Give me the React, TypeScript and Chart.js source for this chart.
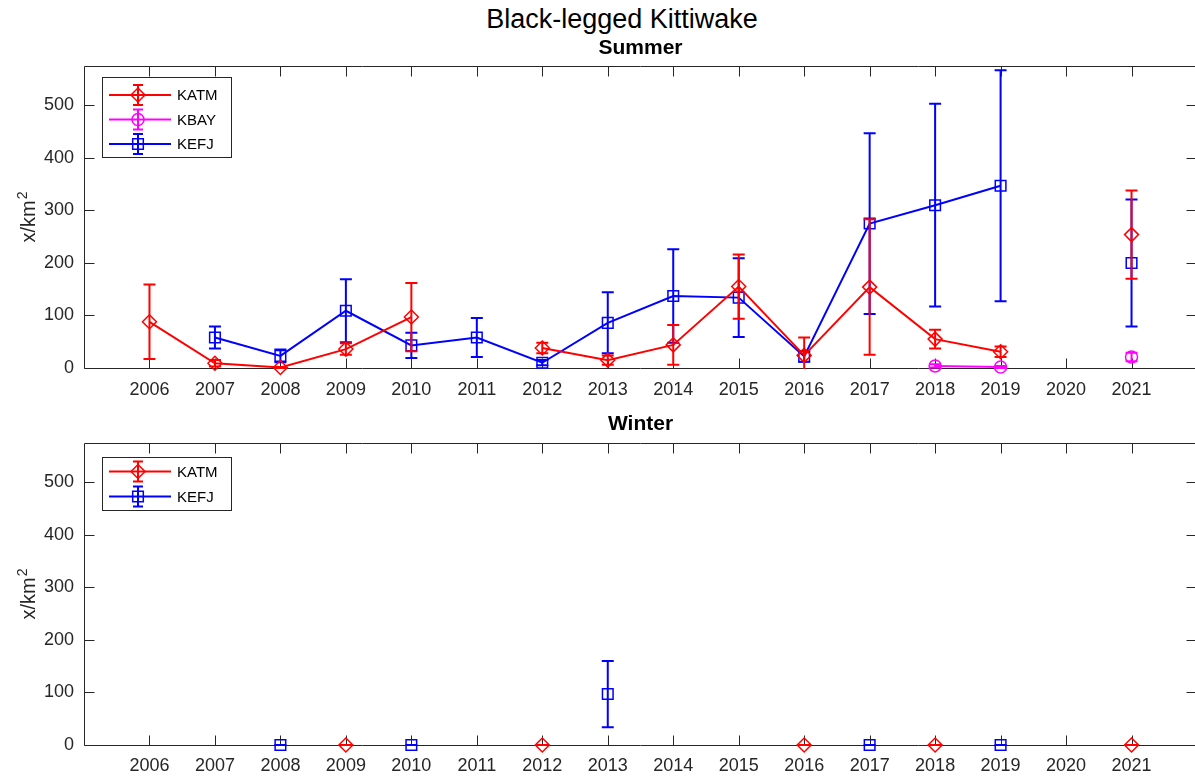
import React, { useEffect, useRef } from 'react';
import { Chart, registerables } from 'chart.js';

Chart.register(...registerables);

// Survey years and axis ticks
const years = [2006, 2007, 2008, 2009, 2010, 2011, 2012, 2013, 2014, 2015, 2016, 2017, 2018, 2019, 2020, 2021];
const yTicks = [0, 100, 200, 300, 400, 500];

// Summer densities (birds per km²) and their error half-widths
const summerKATM = [88, 9, 1, 36, 97, null, 38, 15, 44, 155, 24, 154, 55, 31, null, 254];
const summerKATMErr = [71, 6, 1, 11, 65, null, 10, 9, 38, 61, 34, 129, 18, 10, null, 84];
const summerKBAY = [null, null, null, null, null, null, null, null, null, null, null, null, 4, 2, null, 21];
const summerKBAYErr = [null, null, null, null, null, null, null, null, null, null, null, null, 3, 2, null, 8];
const summerKEFJ = [null, 58, 23, 109, 43, 58, 10, 86, 137, 134, 22, 275, 310, 347, null, 200];
const summerKEFJErr = [null, 21, 12, 60, 24, 37, 5, 58, 89, 75, 10, 172, 193, 220, null, 121];

// Winter densities
const winterKATM = [null, null, null, 0, null, null, 0, null, null, null, 0, null, 0, null, null, 0];
const winterKATMErr = [null, null, null, 0, null, null, 0, null, null, null, 0, null, 0, null, null, 0];
const winterKEFJ = [null, null, 0, null, 0, null, null, 97, null, null, null, 0, null, 0, null, null];
const winterKEFJErr = [null, null, 0, null, 0, null, null, 63, null, null, null, 0, null, 0, null, null];

const RED = '#ff0000';
const MAGENTA = '#ff00ff';
const BLUE = '#0000ff';
const AXIS = '#262626';
const FONT = "'Liberation Sans', Arial, Helvetica, sans-serif";

Chart.defaults.font.family = FONT;

type Style = { color: string; pointStyle: string; radius: number };
const styles: Record<string, Style> = {
  KATM: { color: RED, pointStyle: 'rectRot', radius: 7 },
  KBAY: { color: MAGENTA, pointStyle: 'circle', radius: 6 },
  KEFJ: { color: BLUE, pointStyle: 'rect', radius: 7.5 },
};

function series(label: string, values: (number | null)[], errors: (number | null)[]) {
  const s = styles[label];
  return {
    label,
    data: years.map((x, i) => ({ x, y: values[i] })),
    errors,
    borderColor: s.color,
    backgroundColor: 'rgba(0,0,0,0)',
    borderWidth: 2,
    pointStyle: s.pointStyle,
    pointRadius: s.radius,
    pointBorderWidth: 1.5,
    pointBorderColor: s.color,
    pointBackgroundColor: 'rgba(0,0,0,0)',
    spanGaps: false,
    tension: 0,
    clip: false,
  };
}

function drawMarker(ctx: CanvasRenderingContext2D, style: string, x: number, y: number, r: number) {
  ctx.beginPath();
  if (style === 'circle') {
    ctx.arc(x, y, r, 0, Math.PI * 2);
  } else if (style === 'rect') {
    const s = r * Math.SQRT1_2;
    ctx.rect(x - s, y - s, 2 * s, 2 * s);
  } else {
    ctx.moveTo(x - r, y);
    ctx.lineTo(x, y - r);
    ctx.lineTo(x + r, y);
    ctx.lineTo(x, y + r);
    ctx.closePath();
  }
  ctx.stroke();
}

// Vertical error bars with caps, drawn under each series' line and markers
const errorBarPlugin = {
  id: 'errorBars',
  beforeDatasetDraw(chart: any, args: any) {
    const ds = chart.data.datasets[args.index];
    const errs = ds.errors as (number | null)[] | undefined;
    if (!errs) return;
    const { ctx, chartArea, scales } = chart;
    const y = scales.y;
    ctx.save();
    ctx.beginPath();
    ctx.rect(chartArea.left, chartArea.top - 1, chartArea.right - chartArea.left, chartArea.bottom - chartArea.top + 2);
    ctx.clip();
    ctx.strokeStyle = ds.borderColor;
    ctx.lineWidth = 2;
    args.meta.data.forEach((pt: any, i: number) => {
      const v = ds.data[i].y;
      const e = errs[i];
      if (v == null || e == null) return;
      const px = pt.x;
      const top = y.getPixelForValue(v + e);
      const bot = y.getPixelForValue(v - e);
      ctx.beginPath();
      ctx.moveTo(px, top);
      ctx.lineTo(px, bot);
      ctx.moveTo(px - 6, top);
      ctx.lineTo(px + 6, top);
      ctx.moveTo(px - 6, bot);
      ctx.lineTo(px + 6, bot);
      ctx.stroke();
    });
    ctx.restore();
  },
};

// Boxed axes with inward tick marks on all four sides
const axesBoxPlugin = {
  id: 'axesBox',
  beforeDatasetsDraw(chart: any) {
    const { ctx, chartArea, scales } = chart;
    const { left, right, top, bottom } = chartArea;
    ctx.save();
    ctx.strokeStyle = AXIS;
    ctx.lineWidth = 1;
    const L = Math.round(left) + 0.5;
    const R = Math.round(right) - 0.5;
    const T = Math.round(top) + 0.5;
    const B = Math.round(bottom) + 0.5;
    ctx.beginPath();
    ctx.rect(L, T, R - L, B - T);
    const tick = 10;
    years.forEach((yr) => {
      const px = Math.round(scales.x.getPixelForValue(yr)) + 0.5;
      ctx.moveTo(px, B);
      ctx.lineTo(px, B - tick);
      ctx.moveTo(px, T);
      ctx.lineTo(px, T + tick);
    });
    yTicks.forEach((v) => {
      const py = Math.round(scales.y.getPixelForValue(v)) + 0.5;
      ctx.moveTo(L, py);
      ctx.lineTo(L + tick, py);
      ctx.moveTo(R, py);
      ctx.lineTo(R - tick, py);
    });
    ctx.stroke();
    ctx.restore();
  },
};

// Rotated y-axis unit label with a raised exponent
const unitLabelPlugin = {
  id: 'unitLabel',
  afterDraw(chart: any) {
    const { ctx, chartArea } = chart;
    const cy = (chartArea.top + chartArea.bottom) / 2;
    const base = 'x/km';
    const sup = '2';
    ctx.save();
    ctx.fillStyle = AXIS;
    ctx.font = `20px ${FONT}`;
    const wBase = ctx.measureText(base).width;
    ctx.font = `14px ${FONT}`;
    const wSup = ctx.measureText(sup).width;
    const total = wBase + wSup + 1;
    ctx.translate(35, cy);
    ctx.rotate(-Math.PI / 2);
    ctx.textAlign = 'left';
    ctx.textBaseline = 'alphabetic';
    ctx.font = `20px ${FONT}`;
    ctx.fillText(base, -total / 2, 0);
    ctx.font = `14px ${FONT}`;
    ctx.fillText(sup, -total / 2 + wBase + 1, -8);
    ctx.restore();
  },
};

// Legend box in the upper-left corner of the plot area
const seriesLegendPlugin = {
  id: 'seriesLegend',
  afterDraw(chart: any, _args: any, opts: any) {
    const { ctx } = chart;
    const { left, top, width, height, firstRow, rowGap } = opts;
    ctx.save();
    ctx.fillStyle = '#ffffff';
    ctx.fillRect(left, top, width, height);
    ctx.strokeStyle = AXIS;
    ctx.lineWidth = 1;
    ctx.strokeRect(left + 0.5, top + 0.5, width, height);
    chart.data.datasets.forEach((ds: any, i: number) => {
      const s = styles[ds.label];
      const cy = top + firstRow + i * rowGap;
      const x0 = left + 7;
      const x1 = left + 69;
      const cx = left + 36;
      ctx.strokeStyle = s.color;
      ctx.lineWidth = 2;
      ctx.beginPath();
      ctx.moveTo(x0, cy);
      ctx.lineTo(x1, cy);
      ctx.moveTo(cx, cy - 10);
      ctx.lineTo(cx, cy + 10);
      ctx.moveTo(cx - 5, cy - 10);
      ctx.lineTo(cx + 5, cy - 10);
      ctx.moveTo(cx - 5, cy + 10);
      ctx.lineTo(cx + 5, cy + 10);
      ctx.stroke();
      ctx.lineWidth = 1.5;
      drawMarker(ctx, s.pointStyle, cx, cy, s.radius);
      ctx.fillStyle = '#000000';
      ctx.font = `15px ${FONT}`;
      ctx.textAlign = 'left';
      ctx.textBaseline = 'middle';
      ctx.fillText(ds.label, left + 75, cy + 1);
    });
    ctx.restore();
  },
};

function fixPadding(s: any) {
  s.paddingLeft = 0;
  s.paddingRight = 0;
  s.paddingTop = 0;
  s.paddingBottom = 0;
}

function makeConfig(p: {
  title: string;
  datasets: any[];
  layoutTop: number;
  titleTop: number;
  titleBottom: number;
  xAxisHeight: number;
  tickPad: number;
  legend: any;
}): any {
  return {
    type: 'line',
    data: { datasets: p.datasets },
    plugins: [errorBarPlugin, axesBoxPlugin, unitLabelPlugin, seriesLegendPlugin],
    options: {
      responsive: false,
      animation: false,
      events: [],
      layout: { autoPadding: false, padding: { top: p.layoutTop, left: 0, right: 0, bottom: 0 } },
      scales: {
        x: {
          type: 'linear',
          min: 2005,
          max: 2022,
          grid: { display: false, drawTicks: false },
          border: { display: false },
          afterBuildTicks: (s: any) => {
            s.ticks = years.map((v) => ({ value: v }));
          },
          afterFit: (s: any) => {
            s.height = p.xAxisHeight;
            fixPadding(s);
          },
          ticks: {
            color: AXIS,
            font: { size: 18 },
            padding: p.tickPad,
            maxRotation: 0,
            autoSkip: false,
            callback: (v: any) => String(v),
          },
        },
        y: {
          type: 'linear',
          min: 0,
          max: 575,
          grid: { display: false, drawTicks: false },
          border: { display: false },
          afterBuildTicks: (s: any) => {
            s.ticks = yTicks.map((v) => ({ value: v }));
          },
          afterFit: (s: any) => {
            s.width = 84;
            fixPadding(s);
          },
          ticks: {
            color: AXIS,
            font: { size: 18 },
            padding: 10,
            callback: (v: any) => String(v),
          },
        },
      },
      plugins: {
        legend: { display: false },
        tooltip: { enabled: false },
        title: {
          display: true,
          text: p.title,
          color: '#000000',
          fullSize: false,
          font: { size: 21, weight: 'bold' },
          padding: { top: p.titleTop, bottom: p.titleBottom },
        },
        seriesLegend: p.legend,
      },
    },
  };
}

export default function App() {
  const summerRef = useRef<HTMLCanvasElement>(null);
  const winterRef = useRef<HTMLCanvasElement>(null);

  useEffect(() => {
    const summer = new Chart(
      summerRef.current as HTMLCanvasElement,
      makeConfig({
        title: 'Summer',
        datasets: [
          series('KATM', summerKATM, summerKATMErr),
          series('KBAY', summerKBAY, summerKBAYErr),
          series('KEFJ', summerKEFJ, summerKEFJErr),
        ],
        layoutTop: 30,
        titleTop: 5.4,
        titleBottom: 5.4,
        xAxisHeight: 32,
        tickPad: 11,
        legend: { left: 102, top: 77, width: 129, height: 80, firstRow: 18, rowGap: 24.5 },
      })
    );
    const winter = new Chart(
      winterRef.current as HTMLCanvasElement,
      makeConfig({
        title: 'Winter',
        datasets: [series('KATM', winterKATM, winterKATMErr), series('KEFJ', winterKEFJ, winterKEFJErr)],
        layoutTop: 6,
        titleTop: 5.4,
        titleBottom: 6.4,
        xAxisHeight: 35,
        tickPad: 10,
        legend: { left: 102, top: 57, width: 129, height: 53, firstRow: 14.5, rowGap: 25 },
      })
    );
    return () => {
      summer.destroy();
      winter.destroy();
    };
  }, []);

  return (
    <div
      style={{
        position: 'fixed',
        left: 0,
        top: 0,
        width: 1195,
        height: 780,
        background: '#ffffff',
        overflow: 'hidden',
      }}
    >
      <div
        style={{
          position: 'absolute',
          left: 622,
          top: 3,
          transform: 'translateX(-50%)',
          whiteSpace: 'nowrap',
          font: `27px/32px ${FONT}`,
          color: '#000000',
        }}
      >
        Black-legged Kittiwake
      </div>
      <canvas ref={summerRef} width={1197} height={400} style={{ position: 'absolute', left: 0, top: 0 }} />
      <canvas ref={winterRef} width={1197} height={380} style={{ position: 'absolute', left: 0, top: 400 }} />
    </div>
  );
}
